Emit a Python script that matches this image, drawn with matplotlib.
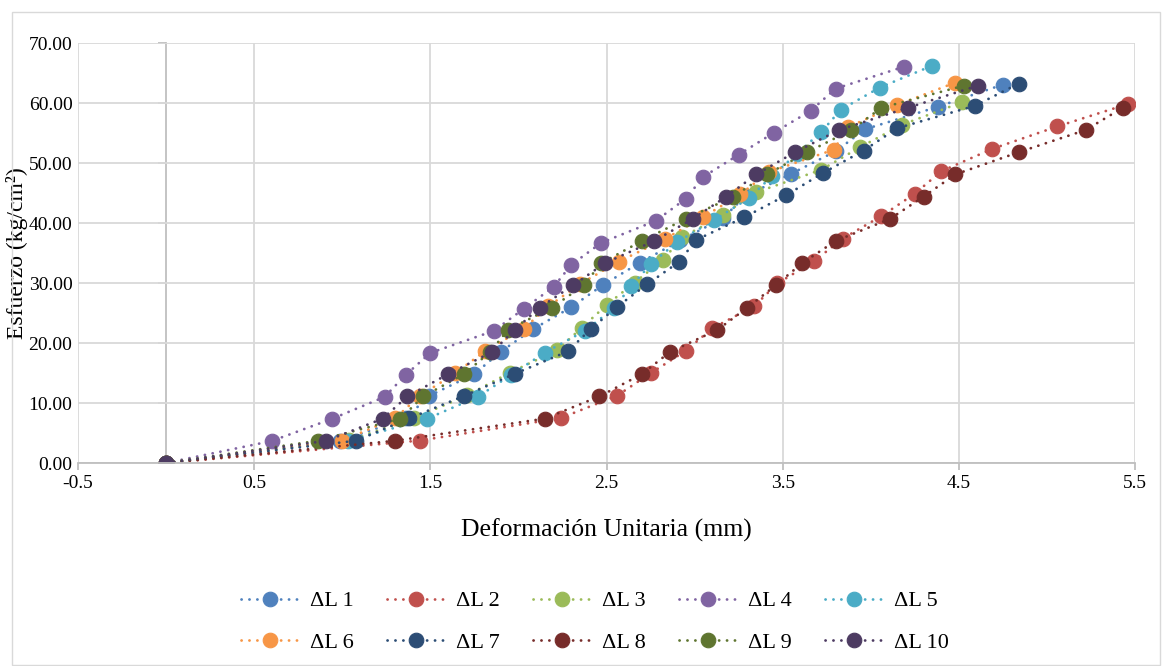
import numpy as np
import matplotlib
matplotlib.use("Agg")
import matplotlib.pyplot as plt
from matplotlib.patches import Rectangle

# deformation (mm) and stress (kg/cm2) read for each load step, one pair per gauge
labels = ["ΔL 1", "ΔL 2", "ΔL 3", "ΔL 4", "ΔL 5",
          "ΔL 6", "ΔL 7", "ΔL 8", "ΔL 9", "ΔL 10"]
colors = ["#4F81BD", "#C0504D", "#9BBB59", "#8064A2", "#4BACC6",
          "#F79646", "#2C4D75", "#772C2A", "#5F7530", "#4D3B62"]

dl1_x = [0, 0.99, 1.36, 1.49, 1.75, 1.90, 2.08, 2.30, 2.48, 2.69, 2.92, 3.16, 3.29, 3.55, 3.80, 3.97, 4.38, 4.75]
dl1_y = [0, 3.71, 7.42, 11.13, 14.84, 18.55, 22.26, 25.97, 29.68, 33.39, 37.10, 40.81, 44.52, 48.23, 51.94, 55.65, 59.36, 63.07]

dl2_x = [0, 1.44, 2.24, 2.56, 2.75, 2.95, 3.10, 3.34, 3.47, 3.68, 3.84, 4.06, 4.25, 4.40, 4.69, 5.06, 5.46]
dl2_y = [0, 3.74, 7.48, 11.22, 14.96, 18.70, 22.44, 26.18, 29.92, 33.66, 37.40, 41.14, 44.88, 48.62, 52.36, 56.10, 59.84]

dl3_x = [0, 1.04, 1.41, 1.71, 1.95, 2.22, 2.36, 2.50, 2.66, 2.82, 2.93, 3.16, 3.35, 3.72, 3.94, 4.18, 4.52]
dl3_y = [0, 3.76, 7.52, 11.28, 15.04, 18.80, 22.56, 26.32, 30.08, 33.84, 37.60, 41.36, 45.12, 48.88, 52.64, 56.40, 60.16]

dl4_x = [0, 0.60, 0.94, 1.24, 1.36, 1.50, 1.86, 2.03, 2.20, 2.30, 2.47, 2.78, 2.95, 3.05, 3.25, 3.45, 3.66, 3.80, 4.19]
dl4_y = [0, 3.67, 7.34, 11.01, 14.68, 18.35, 22.02, 25.69, 29.36, 33.03, 36.70, 40.37, 44.04, 47.71, 51.38, 55.05, 58.72, 62.39, 66.06]

dl5_x = [0, 1.03, 1.48, 1.77, 1.96, 2.15, 2.38, 2.54, 2.64, 2.75, 2.90, 3.11, 3.31, 3.44, 3.58, 3.72, 3.83, 4.05, 4.35]
dl5_y = [0, 3.68, 7.36, 11.04, 14.72, 18.40, 22.08, 25.76, 29.44, 33.12, 36.80, 40.48, 44.16, 47.84, 51.52, 55.20, 58.88, 62.56, 66.24]

dl6_x = [0, 1.00, 1.30, 1.44, 1.64, 1.81, 2.03, 2.17, 2.35, 2.57, 2.83, 3.05, 3.26, 3.42, 3.79, 3.87, 4.15, 4.48]
dl6_y = [0, 3.73, 7.46, 11.19, 14.92, 18.65, 22.38, 26.11, 29.84, 33.57, 37.30, 41.03, 44.76, 48.49, 52.22, 55.95, 59.68, 63.41]

dl7_x = [0, 1.08, 1.38, 1.69, 1.98, 2.28, 2.41, 2.56, 2.73, 2.91, 3.01, 3.28, 3.52, 3.73, 3.96, 4.15, 4.59, 4.84]
dl7_y = [0, 3.72, 7.44, 11.16, 14.88, 18.60, 22.32, 26.04, 29.76, 33.48, 37.20, 40.92, 44.64, 48.36, 52.08, 55.80, 59.52, 63.24]

dl8_x = [0, 1.30, 2.15, 2.46, 2.70, 2.86, 3.13, 3.30, 3.46, 3.61, 3.80, 4.11, 4.30, 4.48, 4.84, 5.22, 5.43]
dl8_y = [0, 3.70, 7.40, 11.10, 14.80, 18.50, 22.20, 25.90, 29.60, 33.30, 37.00, 40.70, 44.40, 48.10, 51.80, 55.50, 59.20]

dl9_x = [0, 0.86, 1.33, 1.46, 1.69, 1.84, 1.94, 2.19, 2.37, 2.47, 2.70, 2.95, 3.22, 3.41, 3.64, 3.89, 4.06, 4.53]
dl9_y = [0, 3.70, 7.40, 11.10, 14.80, 18.50, 22.20, 25.90, 29.60, 33.30, 37.00, 40.70, 44.40, 48.10, 51.80, 55.50, 59.20, 62.90]

dl10_x = [0, 0.91, 1.23, 1.37, 1.60, 1.85, 1.98, 2.12, 2.31, 2.49, 2.77, 2.99, 3.18, 3.35, 3.57, 3.82, 4.21, 4.61]
dl10_y = [0, 3.70, 7.40, 11.10, 14.80, 18.50, 22.20, 25.90, 29.60, 33.30, 37.00, 40.70, 44.40, 48.10, 51.80, 55.50, 59.20, 62.90]

series = [(dl1_x, dl1_y), (dl2_x, dl2_y), (dl3_x, dl3_y), (dl4_x, dl4_y), (dl5_x, dl5_y),
          (dl6_x, dl6_y), (dl7_x, dl7_y), (dl8_x, dl8_y), (dl9_x, dl9_y), (dl10_x, dl10_y)]

x_ticks = [-0.5, 0.5, 1.5, 2.5, 3.5, 4.5, 5.5]
y_ticks = [0, 10, 20, 30, 40, 50, 60, 70]

plt.rcParams["font.family"] = ["Liberation Serif", "DejaVu Serif"]
GRID = "#D9D9D9"
AXIS = "#BFBFBF"

fig = plt.figure(figsize=(11.67, 6.66), dpi=100)
fig.patches.append(Rectangle((12 / 1167, 0.002), 1148 / 1167, 1 - 12 / 666 - 0.002,
                             transform=fig.transFigure, fill=False, ec=GRID, lw=1))
ax = fig.add_axes([78 / 1167, 1 - 463 / 666, (1135 - 78) / 1167, (463 - 43) / 666])

handles = []
for (x, y), lab, c in zip(series, labels, colors):
    h, = ax.plot(x, y, color=c, lw=2.0, linestyle=(0, (0.05, 2.8)),
                 dash_capstyle="round", marker="o", ms=10.5, mfc=c, mec=c,
                 mew=0.8, label=lab)
    handles.append(h)

ax.set_xlim(-0.5, 5.5)
ax.set_ylim(0, 70)
ax.set_xticks(x_ticks)
ax.set_xticklabels([f"{v:g}" for v in x_ticks])
ax.set_yticks(y_ticks)
ax.set_yticklabels([f"{v:.2f}" for v in y_ticks])
ax.grid(True, color=GRID, lw=1.3)
ax.set_axisbelow(True)
for side in ("left", "right", "top"):
    ax.spines[side].set_visible(False)
ax.spines["bottom"].set_color(AXIS)
ax.spines["bottom"].set_linewidth(1.3)
ax.tick_params(axis="x", direction="out", length=5, color=AXIS, width=1.3,
               labelsize=14, pad=4)
ax.tick_params(axis="y", length=0, labelsize=14, pad=4)

# vertical value axis crosses at x = 0
yax = ax.secondary_yaxis(0.5 / 6)
yax.set_yticks(y_ticks, labels=[])
yax.spines["left"].set_color(AXIS)
yax.spines["left"].set_linewidth(1.3)
yax.tick_params(direction="out", length=6, color=AXIS, width=1.3)

ax.set_xlabel("Deformación Unitaria (mm)", fontsize=18.5, labelpad=19)
ax.set_ylabel("Esfuerzo (kg/cm²)", fontsize=17)
ax.yaxis.set_label_coords(-0.047, 0.5)

order = [0, 5, 1, 6, 2, 7, 3, 8, 4, 9]
fig.legend([handles[i] for i in order], [labels[i] for i in order],
           ncol=5, loc="center", bbox_to_anchor=(0.51, 0.066), frameon=False,
           fontsize=16, handlelength=2.6, columnspacing=1.5, handletextpad=0.5,
           labelspacing=0.95)

fig.savefig("out.png", dpi=100)
